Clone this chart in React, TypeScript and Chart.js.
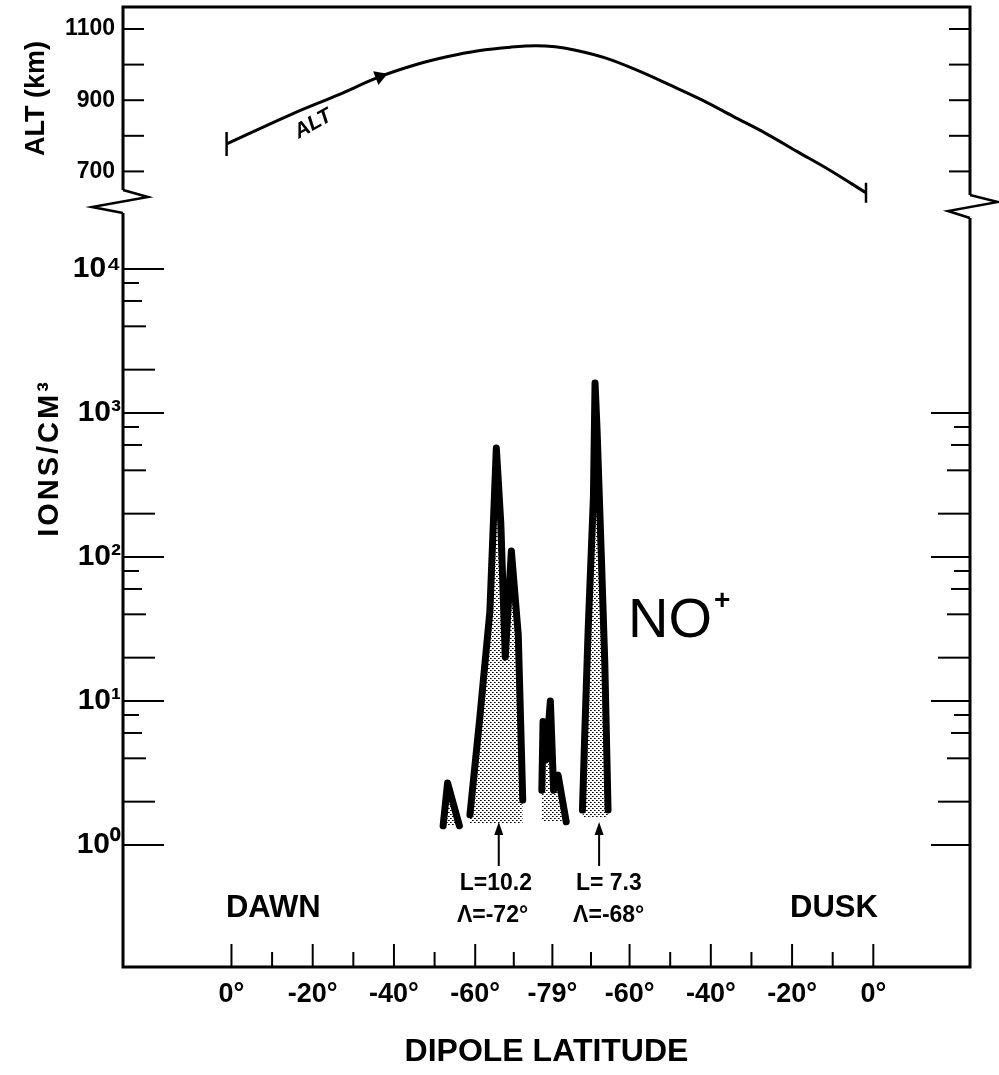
import React, { useEffect, useRef } from 'react';
import { Chart, registerables } from 'chart.js';

Chart.register(...registerables);

const FONT = "'Liberation Sans', Arial, sans-serif";

// x: position along the pass, counted in degrees of dipole latitude travelled
// (dawn 0° -> -79° -> dusk 0°)
const X_RANGE = [-26.7, 181.8];
const X_TICK_POS = [0, 20, 40, 60, 79, 98, 118, 138, 158];
const X_TICK_LABELS = ['0°', '-20°', '-40°', '-60°', '-79°', '-60°', '-40°', '-20°', '0°'];
const X_MINOR_POS = [10, 30, 50, 69.5, 88.5, 108, 128, 148];

// altitude panel
const ALT_RANGE = [647.8, 1161.8];
const ALT_TICKS = [700, 800, 900, 1000, 1100];
const ALT_TICK_LABELS = ['700', '', '900', '', '1100'];
const ALT_X = [-1.2, 15.3, 26.3, 36.5, 45.1, 53.0, 60.8, 68.7, 74.9, 79.7, 84.4, 92.2, 100.1, 107.9, 115.8, 123.6, 131.5, 139.4, 147.2, 156.2];
const ALT_KM = [777, 863, 915, 966, 999, 1022, 1039, 1049, 1053, 1050, 1041, 1018, 983, 943, 901, 854, 807, 755, 704, 640];
const ALT_ARROW_INDEX = 3;

// ion density panel
const ION_RANGE = [0.1422, 24490];
const ION_DECADES = [1, 10, 100, 1000, 10000];
const ION_DECADE_LABELS = ['10⁰', '10¹', '10²', '10³', '10⁴'];
const ION_MINOR_MULT = [2, 4, 6, 8];

// NO+ density, four separate bursts
const NO_A_X = [52.1, 53.2, 56.1];
const NO_A_V = [1.36, 2.7, 1.36];
const NO_B_X = [58.7, 61.1, 63.6, 65.2, 66.3, 67.4, 68.9, 70.6, 71.7];
const NO_B_V = [1.62, 7.5, 41.5, 571, 172, 20.2, 110, 28.7, 2.05];
const NO_C_X = [76.4, 76.7, 77.4, 78.5, 79.3, 80.4, 82.4];
const NO_C_V = [2.4, 7.2, 3.9, 10, 2.4, 3.06, 1.45];
const NO_D_X = [86.4, 87.0, 87.8, 89.1, 89.5, 90.0, 91.1, 91.9, 92.7];
const NO_D_V = [1.75, 6.3, 31, 261, 1618, 762, 91, 18.3, 1.75];
const NO_FILL_BASE = [1.36, 1.42, 1.45, 1.56];

// marked crossings
const MARK_X = [65.8, 90.5];
const MARK_L = ['L=10.2', 'L= 7.3'];
const MARK_LAMBDA = ['Λ=-72°', 'Λ=-68°'];
const MARK_TEXT_X = [56.2, 84.8];

const MINOR_LEN: Record<number, number> = { 2: 32, 4: 23, 6: 19, 8: 16 };

function line(ctx: CanvasRenderingContext2D, pts: number[][]) {
  ctx.beginPath();
  ctx.moveTo(pts[0][0], pts[0][1]);
  for (let i = 1; i < pts.length; i++) ctx.lineTo(pts[i][0], pts[i][1]);
  ctx.stroke();
}

const topDeco = {
  id: 'topDeco',
  afterDraw(chart: any) {
    const { ctx, chartArea: a, scales } = chart;
    const y = scales.y;
    const x = scales.x;
    ctx.save();
    ctx.strokeStyle = '#000';
    ctx.lineJoin = 'miter';
    ctx.lineWidth = 3;
    // frame with breaks
    line(ctx, [[a.left, a.bottom], [a.left, a.top], [a.right, a.top], [a.right, a.bottom + 5]]);
    ctx.lineWidth = 2.5;
    line(ctx, [[a.left, a.bottom], [a.left + 25, a.bottom + 7], [a.left - 31, a.bottom + 17], [a.left, a.bottom + 23]]);
    line(ctx, [[a.right, a.bottom + 5], [a.right + 28, a.bottom + 12], [a.right - 22, a.bottom + 21], [a.right, a.bottom + 28]]);
    // ticks
    ctx.lineWidth = 2;
    ALT_TICKS.forEach((v) => {
      const py = y.getPixelForValue(v);
      line(ctx, [[a.left, py], [a.left + 21, py]]);
      line(ctx, [[a.right, py], [a.right - 21, py]]);
    });
    // curve label
    ctx.fillStyle = '#000';
    ctx.translate(x.getPixelForValue(20.1), y.getPixelForValue(833));
    ctx.rotate((-29 * Math.PI) / 180);
    ctx.font = `italic bold 21px ${FONT}`;
    ctx.textAlign = 'center';
    ctx.textBaseline = 'middle';
    ctx.fillText('ALT', 0, 0);
    ctx.restore();
  },
};

const bottomDeco = {
  id: 'bottomDeco',
  afterDraw(chart: any) {
    const { ctx, chartArea: a, scales } = chart;
    const x = scales.x;
    const y = scales.y;
    ctx.save();
    ctx.strokeStyle = '#000';
    ctx.fillStyle = '#000';
    ctx.lineWidth = 3;
    line(ctx, [[a.left, a.top], [a.left, a.bottom], [a.right, a.bottom], [a.right, a.top + 5]]);
    ctx.lineWidth = 2;
    // y ticks (pointing inward)
    ION_DECADES.forEach((d, i) => {
      const py = y.getPixelForValue(d);
      line(ctx, [[a.left, py], [a.left + 41, py]]);
      if (d <= 1000) line(ctx, [[a.right, py], [a.right - 39, py]]);
      if (i < ION_DECADES.length - 1) {
        ION_MINOR_MULT.forEach((m) => {
          const v = m * d;
          const pm = y.getPixelForValue(v);
          const len = MINOR_LEN[m];
          line(ctx, [[a.left, pm], [a.left + len, pm]]);
          if (v < 1000) line(ctx, [[a.right, pm], [a.right - len, pm]]);
        });
      }
    });
    // x ticks (pointing up)
    X_TICK_POS.forEach((v) => {
      const px = x.getPixelForValue(v);
      line(ctx, [[px, a.bottom], [px, a.bottom - 23]]);
    });
    X_MINOR_POS.forEach((v) => {
      const px = x.getPixelForValue(v);
      line(ctx, [[px, a.bottom], [px, a.bottom - 15]]);
    });

    // arrows marking crossings
    MARK_X.forEach((mx, i) => {
      const px = x.getPixelForValue(mx);
      const tip = y.getPixelForValue(1.444);
      const base = y.getPixelForValue(0.715);
      ctx.lineWidth = 2;
      line(ctx, [[px, base], [px, tip + 10]]);
      ctx.beginPath();
      ctx.moveTo(px, tip);
      ctx.lineTo(px - 4.5, tip + 13);
      ctx.lineTo(px + 4.5, tip + 13);
      ctx.closePath();
      ctx.fill();
      ctx.font = `bold 23px ${FONT}`;
      ctx.textAlign = 'left';
      ctx.textBaseline = 'alphabetic';
      ctx.fillText(MARK_L[i], x.getPixelForValue(MARK_TEXT_X[i]), y.getPixelForValue(0.487));
      ctx.fillText(MARK_LAMBDA[i], x.getPixelForValue(MARK_TEXT_X[i] - 0.7), y.getPixelForValue(0.292));
    });

    // DAWN / DUSK
    ctx.font = `bold 31px ${FONT}`;
    ctx.textAlign = 'left';
    ctx.textBaseline = 'alphabetic';
    ctx.fillText('DAWN', x.getPixelForValue(-1.35), y.getPixelForValue(0.316));
    ctx.fillText('DUSK', x.getPixelForValue(137.5), y.getPixelForValue(0.316));

    // NO+
    ctx.font = `56px ${FONT}`;
    const nx = x.getPixelForValue(97.6);
    const ny = y.getPixelForValue(27.8);
    ctx.fillText('NO', nx, ny);
    const w = ctx.measureText('NO').width;
    ctx.font = `bold 28px ${FONT}`;
    ctx.fillText('+', nx + w + 2, ny - 28);

    // y axis title
    ctx.translate(a.left - 65, a.top + 245);
    ctx.rotate(-Math.PI / 2);
    ctx.font = `bold 29px ${FONT}`;
    (ctx as any).letterSpacing = '3px';
    ctx.textAlign = 'center';
    ctx.textBaseline = 'alphabetic';
    ctx.fillText('IONS/CM³', 0, 0);
    (ctx as any).letterSpacing = '0px';
    ctx.restore();
  },
};

const noEdgePadding = (s: any) => {
  s.paddingTop = 0;
  s.paddingBottom = 0;
  s.paddingLeft = 0;
  s.paddingRight = 0;
};

export default function App() {
  const topRef = useRef<HTMLCanvasElement>(null);
  const botRef = useRef<HTMLCanvasElement>(null);

  useEffect(() => {
    const charts: Chart[] = [];
    const pc = document.createElement('canvas');
    pc.width = 4;
    pc.height = 4;
    const p = pc.getContext('2d')!;
    p.fillStyle = '#000';
    p.fillRect(0, 0, 1, 1);
    p.fillRect(2, 2, 1, 1);
    p.fillStyle = '#555';
    p.fillRect(1, 0, 1, 1);
    p.fillRect(3, 2, 1, 1);
    const pattern = botRef.current!.getContext('2d')!.createPattern(pc, 'repeat');

    const clusters = [
      [NO_A_X, NO_A_V],
      [NO_B_X, NO_B_V],
      [NO_C_X, NO_C_V],
      [NO_D_X, NO_D_V],
    ];

    const bottom = new Chart(botRef.current!, {
      type: 'line',
      data: {
        datasets: clusters.map((c, i) => ({
          data: c[0].map((xv, j) => ({ x: xv, y: c[1][j] })),
          borderColor: '#000',
          borderWidth: 7,
          backgroundColor: pattern as any,
          fill: { value: NO_FILL_BASE[i] },
          pointRadius: 0,
          tension: 0,
          borderJoinStyle: 'round',
          borderCapStyle: 'round',
        })),
      },
      options: {
        responsive: false,
        animation: false,
        devicePixelRatio: 1,
        events: [],
        layout: { autoPadding: false, padding: { top: 213, right: 29, bottom: 0, left: 0 } },
        plugins: { legend: { display: false }, tooltip: { enabled: false } },
        scales: {
          x: {
            type: 'linear',
            min: X_RANGE[0],
            max: X_RANGE[1],
            afterBuildTicks: (s: any) => {
              s.ticks = X_TICK_POS.map((v) => ({ value: v }));
            },
            afterFit: (s: any) => {
              s.height = 108;
              noEdgePadding(s);
            },
            grid: { display: false, drawTicks: false },
            border: { display: false },
            ticks: {
              autoSkip: false,
              maxRotation: 0,
              minRotation: 0,
              padding: 11,
              color: '#000',
              font: { family: FONT, size: 27, weight: 'bold' },
              callback: (_v: any, i: number) => X_TICK_LABELS[i],
            },
            title: {
              display: true,
              text: 'DIPOLE LATITUDE',
              color: '#000',
              font: { family: FONT, size: 32, weight: 'bold' },
              padding: { top: 0, bottom: 4 },
            },
          },
          y: {
            type: 'logarithmic',
            min: ION_RANGE[0],
            max: ION_RANGE[1],
            afterBuildTicks: (s: any) => {
              s.ticks = ION_DECADES.map((v) => ({ value: v }));
            },
            afterFit: (s: any) => {
              s.width = 123;
              noEdgePadding(s);
            },
            grid: { display: false, drawTicks: false },
            border: { display: false },
            ticks: {
              padding: 2,
              color: '#000',
              font: { family: FONT, size: 30, weight: 'bold' },
              callback: (_v: any, i: number) => ION_DECADE_LABELS[i],
            },
          },
        },
      } as any,
      plugins: [bottomDeco],
    });
    charts.push(bottom);

    const last = ALT_X.length - 1;
    const top = new Chart(topRef.current!, {
      type: 'line',
      data: {
        datasets: [
          {
            data: ALT_X.map((xv, i) => ({ x: xv, y: ALT_KM[i] })),
            borderColor: '#000',
            borderWidth: 3,
            cubicInterpolationMode: 'monotone',
            clip: false as any,
            fill: false,
            pointStyle: (c: any) => (c.dataIndex === ALT_ARROW_INDEX ? 'triangle' : 'line'),
            pointRadius: (c: any) =>
              c.dataIndex === 0 ? 12 : c.dataIndex === last ? 10 : c.dataIndex === ALT_ARROW_INDEX ? 6 : 0,
            pointRotation: (c: any) => (c.dataIndex === ALT_ARROW_INDEX ? 69 : 90),
            pointBorderWidth: 2.5,
            pointBorderColor: '#000',
            pointBackgroundColor: '#000',
          } as any,
        ],
      },
      options: {
        responsive: false,
        animation: false,
        devicePixelRatio: 1,
        events: [],
        layout: { autoPadding: false, padding: { top: 7, right: 29, bottom: 50, left: 0 } },
        plugins: { legend: { display: false }, tooltip: { enabled: false } },
        scales: {
          x: { type: 'linear', display: false, min: X_RANGE[0], max: X_RANGE[1] },
          y: {
            type: 'linear',
            min: ALT_RANGE[0],
            max: ALT_RANGE[1],
            afterBuildTicks: (s: any) => {
              s.ticks = ALT_TICKS.map((v) => ({ value: v }));
            },
            afterFit: (s: any) => {
              s.width = 123;
              noEdgePadding(s);
            },
            grid: { display: false, drawTicks: false },
            border: { display: false },
            ticks: {
              padding: 8,
              color: '#000',
              font: { family: FONT, size: 23, weight: 'bold' },
              callback: (_v: any, i: number) => ALT_TICK_LABELS[i],
            },
            title: {
              display: true,
              text: 'ALT (km)',
              color: '#000',
              font: { family: FONT, size: 27, weight: 'bold' },
              padding: { top: 20, bottom: 0 },
            },
          },
        },
      } as any,
      plugins: [topDeco],
    });
    charts.push(top);

    return () => charts.forEach((c) => c.destroy());
  }, []);

  return (
    <div style={{ position: 'absolute', left: 0, top: 0, width: 999, height: 1075, background: '#fff', overflow: 'hidden' }}>
      <canvas ref={botRef} width={999} height={1075} style={{ position: 'absolute', left: 0, top: 0, width: 999, height: 1075 }} />
      <canvas ref={topRef} width={999} height={240} style={{ position: 'absolute', left: 0, top: 0, width: 999, height: 240 }} />
    </div>
  );
}
